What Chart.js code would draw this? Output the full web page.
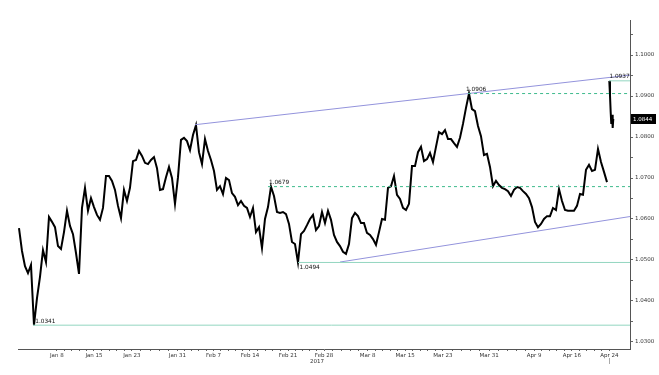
<!DOCTYPE html>
<html><head><meta charset="utf-8">
<script src="https://cdn.jsdelivr.net/npm/chart.js@4"></script>
<style>html,body{margin:0;padding:0;background:#fff}#wrap{width:659px;height:375px}</style>
</head><body><div id="wrap"><canvas id="c" width="659" height="375"></canvas></div>
<script>
// EUR/USD closes, one per bar (bar index = array index)
const closes = [
1.0578,1.0522,1.0485,1.0468,1.0488,1.0341,1.0407,1.0459,1.0524,1.0495,
1.0605,1.0593,1.0580,1.0534,1.0527,1.0568,1.0620,1.0583,1.0563,1.0517,
1.0466,1.0627,1.0676,1.0620,1.0651,1.0629,1.0610,1.0598,1.0627,1.0705,
1.0705,1.0693,1.0671,1.0632,1.0602,1.0671,1.0644,1.0676,1.0741,1.0744,
1.0766,1.0754,1.0737,1.0734,1.0744,1.0751,1.0724,1.0671,1.0673,1.0702,
1.0727,1.0700,1.0637,1.0702,1.0793,1.0798,1.0790,1.0768,1.0805,1.0829,
1.0763,1.0734,1.0795,1.0766,1.0744,1.0717,1.0671,1.0680,1.0661,1.0700,
1.0695,1.0663,1.0654,1.0634,1.0644,1.0632,1.0627,1.0605,1.0627,1.0568,
1.0580,1.0529,1.0600,1.0629,1.0679,1.0656,1.0617,1.0615,1.0617,1.0612,
1.0588,1.0544,1.0539,1.0494,1.0563,1.0571,1.0585,1.0600,1.0610,1.0573,
1.0583,1.0617,1.0590,1.0620,1.0598,1.0561,1.0544,1.0534,1.0520,1.0515,
1.0539,1.0602,1.0615,1.0607,1.0590,1.0590,1.0566,1.0561,1.0551,1.0537,
1.0568,1.0600,1.0598,1.0676,1.0680,1.0705,1.0659,1.0649,1.0627,1.0622,
1.0637,1.0729,1.0729,1.0763,1.0776,1.0741,1.0746,1.0761,1.0739,1.0776,
1.0812,1.0807,1.0817,1.0795,1.0795,1.0785,1.0776,1.0798,1.0832,1.0871,
1.0906,1.0868,1.0863,1.0827,1.0802,1.0756,1.0759,1.0727,1.0680,1.0693,
1.0683,1.0676,1.0673,1.0668,1.0656,1.0671,1.0678,1.0676,1.0668,1.0661,
1.0651,1.0629,1.0593,1.0580,1.0588,1.0600,1.0607,1.0607,1.0627,1.0622,
1.0673,1.0644,1.0622,1.0620,1.0620,1.0620,1.0632,1.0661,1.0659,1.0720,
1.0732,1.0717,1.0720,1.0771,1.0739,1.0715,1.0690
];
// Apr 24 session after the weekend gap
const apr24Pos = [196.77,197.0,197.23,197.43,197.67,197.9,198.1];
const apr24Closes = [1.0937,1.0902,1.0861,1.0832,1.0854,1.0822,1.0844];

const tickPos = [12.6,25,37.6,52.8,64.8,77,89.7,101.7,116.2,128.7,141.3,156.7,171.7,184.3,196.8];
const tickLabels = ['Jan 8','Jan 15','Jan 23','Jan 31','Feb 7','Feb 14','Feb 21','Feb 28','Mar 8','Mar 15','Mar 23','Mar 31','Apr 9','Apr 16','Apr 24'];
const yearLabel = '2017';
const yearUnder = 'Feb 28';
const priceTicks = [1.030,1.035,1.040,1.045,1.050,1.055,1.060,1.065,1.070,1.075,1.080,1.085,1.090,1.095,1.100,1.105];

// marked levels: value, start bar, dashed
const levelValues = [1.0341,1.0494,1.0679,1.0906,1.0937];
const levelStarts = [4.67,93.0,83.0,149.7,196.7];
const levelDashed = [false,false,true,true,false];
const levelLabelPos = [5.4,93.5,83.3,149.0,196.8];
const levelLabelBelow = [false,true,false,false,false];

const upperTrendX = [58.67,203.67], upperTrendY = [1.0830,1.0951];
const lowerTrendX = [107.0,203.67], lowerTrendY = [1.0495,1.0606];
const lastPrice = 1.0844;

const X_MIN = -0.33, X_MAX = 203.67, Y_MIN = 1.02829, Y_MAX = 1.10854;
const FONT = '"DejaVu Sans", sans-serif';

const datasets = [];
levelValues.forEach((v,k)=>{
  datasets.push({data:[{x:levelStarts[k],y:v},{x:X_MAX,y:v}],
    borderColor: levelDashed[k] ? '#3dba8c' : '#93d6c0', borderWidth:1,
    borderDash: levelDashed[k] ? [3,3] : [], pointRadius:0, tension:0});
});
datasets.push({data:upperTrendX.map((x,k)=>({x,y:upperTrendY[k]})),borderColor:'#9393dc',borderWidth:1,pointRadius:0});
datasets.push({data:lowerTrendX.map((x,k)=>({x,y:lowerTrendY[k]})),borderColor:'#9393dc',borderWidth:1,pointRadius:0});
datasets.push({data:closes.map((v,i)=>({x:i,y:v})),borderColor:'#000',borderWidth:2,pointRadius:0,tension:0,borderJoinStyle:'miter'});
datasets.push({data:apr24Pos.map((x,k)=>({x,y:apr24Closes[k]})),borderColor:'#000',borderWidth:2,pointRadius:0,tension:0});

const xTicks = [];
tickPos.forEach((p,k)=>{
  xTicks.push({value:p,major:true});
  if(k<tickPos.length-1){const n=tickPos[k+1];for(let j=1;j<5;j++)xTicks.push({value:p+(n-p)*j/5});}
});

const overlay = {
  id:'overlay',
  afterDraw(chart){
    const {ctx, scales:{x,y}, chartArea} = chart;
    ctx.save();
    ctx.font = '5.8px '+FONT; ctx.fillStyle='#111'; ctx.textAlign='left';
    levelValues.forEach((v,k)=>{
      const px = x.getPixelForValue(levelLabelPos[k]);
      const py = y.getPixelForValue(v);
      if(levelLabelBelow[k]){ctx.textBaseline='top';ctx.fillText(v.toFixed(4),px,py+2);}
      else{ctx.textBaseline='bottom';ctx.fillText(v.toFixed(4),px,py-1);}
    });
    // last price box
    const ly = Math.round(y.getPixelForValue(lastPrice));
    ctx.fillStyle='#000'; ctx.fillRect(chartArea.right+1, ly-5, 25, 10);
    ctx.fillStyle='#fff'; ctx.font='5.5px '+FONT; ctx.textBaseline='middle';
    ctx.fillText(lastPrice.toFixed(4), chartArea.right+3, ly+0.5);
    // year label
    ctx.fillStyle='#333'; ctx.textBaseline='top'; ctx.textAlign='center';
    const fx = x.getPixelForValue(tickPos[tickLabels.indexOf(yearUnder)]);
    ctx.fillText(yearLabel, fx-7, chartArea.bottom+10);
    // current bar marker
    const ax = Math.round(x.getPixelForValue(tickPos[tickPos.length-1]))+0.5;
    ctx.strokeStyle='#aaa'; ctx.lineWidth=1;
    ctx.beginPath(); ctx.moveTo(ax, chartArea.bottom+9); ctx.lineTo(ax, chartArea.bottom+15); ctx.stroke();
    ctx.restore();
  }
};

new Chart(document.getElementById('c'), {
  type:'line',
  data:{datasets},
  options:{
    responsive:false, animation:false, devicePixelRatio:1,
    layout:{padding:{left:18,top:20,right:0,bottom:0}},
    plugins:{legend:{display:false},tooltip:{enabled:false}},
    scales:{
      x:{type:'linear',position:'bottom',min:X_MIN,max:X_MAX,
        afterBuildTicks:(s)=>{s.ticks = xTicks.map(t=>({...t}));},
        afterFit:(s)=>{s.height=26;},
        border:{display:true,color:'#555',width:1},
        grid:{display:true,drawOnChartArea:false,drawTicks:true,tickLength:2,color:'#666'},
        ticks:{autoSkip:false,maxRotation:0,padding:1,color:'#333',font:{family:FONT,size:5.5},
          callback:(v)=>{const k=tickPos.indexOf(v);return k>=0?tickLabels[k]:'';}}
      },
      y:{type:'linear',position:'right',min:Y_MIN,max:Y_MAX,
        afterBuildTicks:(s)=>{s.ticks = priceTicks.map(v=>({value:v}));},
        afterFit:(s)=>{s.width=29;},
        border:{display:true,color:'#555',width:1},
        grid:{display:true,drawOnChartArea:false,drawTicks:true,tickLength:3,color:'#666'},
        ticks:{autoSkip:false,padding:2,color:'#333',font:{family:FONT,size:5.5},
          callback:(v)=>{const h=Math.round(v*1000);return h%10===0?v.toFixed(4):'';}}
      }
    }
  },
  plugins:[overlay]
});
</script></body></html>
